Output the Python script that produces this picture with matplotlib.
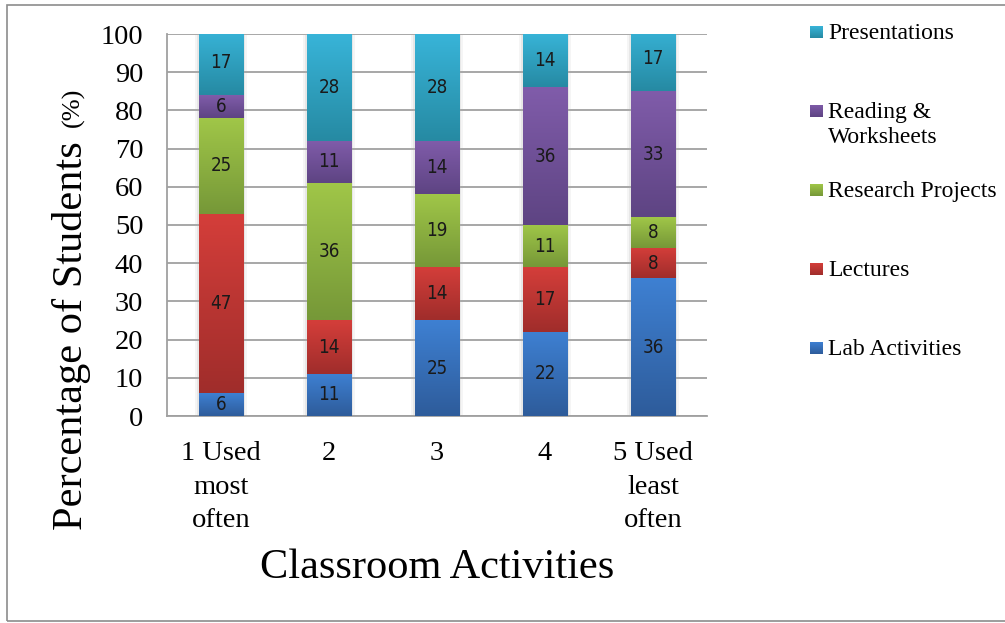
import numpy as np
import matplotlib
matplotlib.use("Agg")
from matplotlib import pyplot as plt
from matplotlib.patches import Rectangle
from matplotlib.colors import to_rgb

categories = ["1 Used\nmost\noften", "2", "3", "4", "5 Used\nleast\noften"]
series_names = ["Lab Activities", "Lectures", "Research Projects", "Reading &\nWorksheets", "Presentations"]
lab = [6, 11, 25, 22, 36]
lectures = [47, 14, 14, 17, 8]
research = [25, 36, 19, 11, 8]
reading = [6, 11, 14, 36, 33]
presentations = [17, 28, 28, 14, 17]
yticks = [0, 10, 20, 30, 40, 50, 60, 70, 80, 90, 100]

series = [lab, lectures, research, reading, presentations]
# (top colour, bottom colour) of each gradient
colors = [("#3E80D2", "#2E5C9B"),
          ("#D43E3A", "#A02D2B"),
          ("#A0C648", "#769838"),
          ("#805CAA", "#5E4483"),
          ("#38B4D8", "#268AA3")]

plt.rcParams['font.family'] = ['Liberation Serif', 'DejaVu Serif']
label_font = ['DejaVu Sans']

W, H = 1005, 623
fig = plt.figure(figsize=(W / 100, H / 100), dpi=100)
ax = fig.add_axes([167 / W, 1 - 416 / H, 540 / W, 382 / H])

# outer chart frame
fig.patches.append(Rectangle((0.007, 0.003), 1.2, 0.989, transform=fig.transFigure,
                             fill=False, edgecolor="#8c8c8c", linewidth=1.2, zorder=0))


def gradient(top, bottom, n=64):
    t = np.linspace(0, 1, n)[:, None]
    a = np.array(to_rgb(top))
    b = np.array(to_rgb(bottom))
    return (a * (1 - t) + b * t).reshape(n, 1, 3)


x = np.arange(len(categories))
width = 0.41

# soft shadow behind each stack
totals = np.sum(series, axis=0)
for k, a in [(1.16, 0.12), (1.09, 0.2)]:
    ax.bar(x, totals, width * k, color="#b0b0b0", alpha=a, zorder=1.5, linewidth=0)

bottom = np.zeros(len(categories))
for vals, name, (ctop, cbot) in zip(series, series_names, colors):
    vals = np.array(vals)
    bars = ax.bar(x, vals, width, bottom=bottom, color=ctop, zorder=2, label=name)
    img = gradient(ctop, cbot)
    for b in bars:
        x0, y0 = b.get_x(), b.get_y()
        im = ax.imshow(img, extent=(x0, x0 + b.get_width(), y0, y0 + b.get_height()),
                       aspect='auto', zorder=3, interpolation='bilinear')
        im.set_clip_path(ax.patch)
    for xi, v, bt in zip(x, vals, bottom):
        ax.text(xi, bt + v / 2, str(v), ha='center', va='center', fontsize=13.5,
                family=label_font, fontstretch='condensed', color="#1a1a1a", zorder=5)
    bottom = bottom + vals

ax.set_xlim(-0.5, len(categories) - 0.5)
ax.set_ylim(0, 100)
ax.set_yticks(yticks)
ax.set_xticks(x)
ax.set_xticklabels(categories, fontsize=20.5, linespacing=1.45)
ax.tick_params(axis='y', labelsize=20.5, length=0, pad=17)
ax.tick_params(axis='x', length=0, pad=18)
ax.yaxis.grid(True, color="#a0a0a0", linewidth=1.3, zorder=0)
ax.set_axisbelow(True)
for s in ['top', 'right']:
    ax.spines[s].set_visible(False)
for s in ['left', 'bottom']:
    ax.spines[s].set_color("#a0a0a0")
    ax.spines[s].set_linewidth(1.3)

fig.text(437 / W, 1 - 568 / H, "Classroom Activities", fontsize=30.5, ha='center', va='center')
fig.text(82 / W, 1 - 530 / H, "Percentage of Students", fontsize=30.5, rotation=90,
         rotation_mode='anchor', ha='left', va='baseline')
fig.text(79 / W, 1 - 127 / H, "(%)", fontsize=19, rotation=90,
         rotation_mode='anchor', ha='left', va='baseline')

# legend, top entry first
for i, (name, (ctop, cbot)) in enumerate(zip(series_names[::-1], colors[::-1])):
    yc = 32 + 79 * i
    sq = fig.add_axes([810 / W, 1 - (yc + 6) / H, 13 / W, 12 / H])
    sq.imshow(gradient(ctop, cbot), aspect='auto', extent=(0, 1, 0, 1))
    sq.set_axis_off()
    fig.text(828 / W, 1 - (yc - 9) / H, name, fontsize=17, ha='left', va='top',
             linespacing=1.28)

fig.savefig("out.png", dpi=100)
